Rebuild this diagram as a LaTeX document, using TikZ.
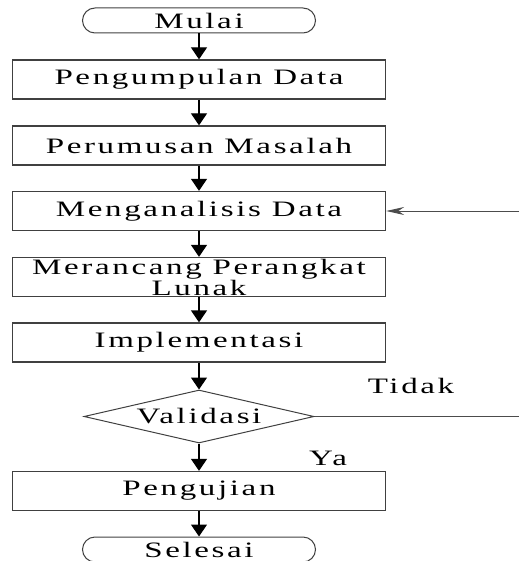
\documentclass[tikz,border=0pt]{standalone}
\usepackage{fontspec}
\usepackage{graphicx}
\setmainfont{Liberation Serif}[LetterSpace=8]
\usetikzlibrary{shapes.geometric,arrows.meta}
\newcommand{\wtxt}[1]{\scalebox{1.5}[1]{#1}}
\begin{document}
\begin{tikzpicture}[x=1pt,y=-1pt,
  every node/.style={font=\fontsize{22}{19}\selectfont, text=black},
  boxst/.style={draw=black!75, line width=1.3pt, minimum width=373pt, minimum height=39pt, inner sep=0pt},
  termst/.style={draw=black!75, line width=1pt, rounded corners=12.5pt, minimum width=233pt, minimum height=25pt, inner sep=0pt},
  decst/.style={draw=black!75, line width=1pt, diamond, aspect=4.34, minimum width=230pt, minimum height=53pt, inner sep=0pt},
  flow/.style={draw=black, line width=1.3pt, -{Triangle[length=12pt,width=16pt]}},
  back/.style={draw=black!70, line width=1pt}
]
\useasboundingbox (0,0) rectangle (519,561);
\node[termst] (mulai) at (199,20.5) {\wtxt{Mulai}};
\node[boxst] (b1) at (199,79.5) {\wtxt{Pengumpulan Data}};
\node[boxst] (b2) at (199,145.5) {\wtxt{Perumusan Masalah}};
\node[boxst] (b3) at (199,211) {\wtxt{Menganalisis Data}};
\node[boxst, align=center] (b4) at (199,277) {\wtxt{Merancang Perangkat}\\\wtxt{Lunak}};
\node[boxst] (b5) at (199,342.5) {\wtxt{Implementasi}};
\node[decst] (val) at (199,416.5) {\wtxt{Validasi}};
\node[boxst] (b6) at (199,491) {\wtxt{Pengujian}};
\node[termst] (selesai) at (199,549.5) {\wtxt{Selesai}};
\node (tidak) at (411,386) {\wtxt{Tidak}};
\node (ya) at (328,458) {\wtxt{Ya}};
\coordinate (e1) at (519,416.5);
\coordinate (e2) at (519,211);
\draw[flow] (mulai) -- (b1);
\draw[flow] (b1) -- (b2);
\draw[flow] (b2) -- (b3);
\draw[flow] (b3) -- (b4);
\draw[flow] (b4) -- (b5);
\draw[flow] (b5) -- (val);
\draw[flow] (val) -- (b6);
\draw[flow] (b6) -- (selesai);
\draw[back] (val.east) -- (e1);
\draw[back, -{Stealth[length=18pt,width=8pt]}] (e2) -- (b3.east);
\end{tikzpicture}
\end{document}
